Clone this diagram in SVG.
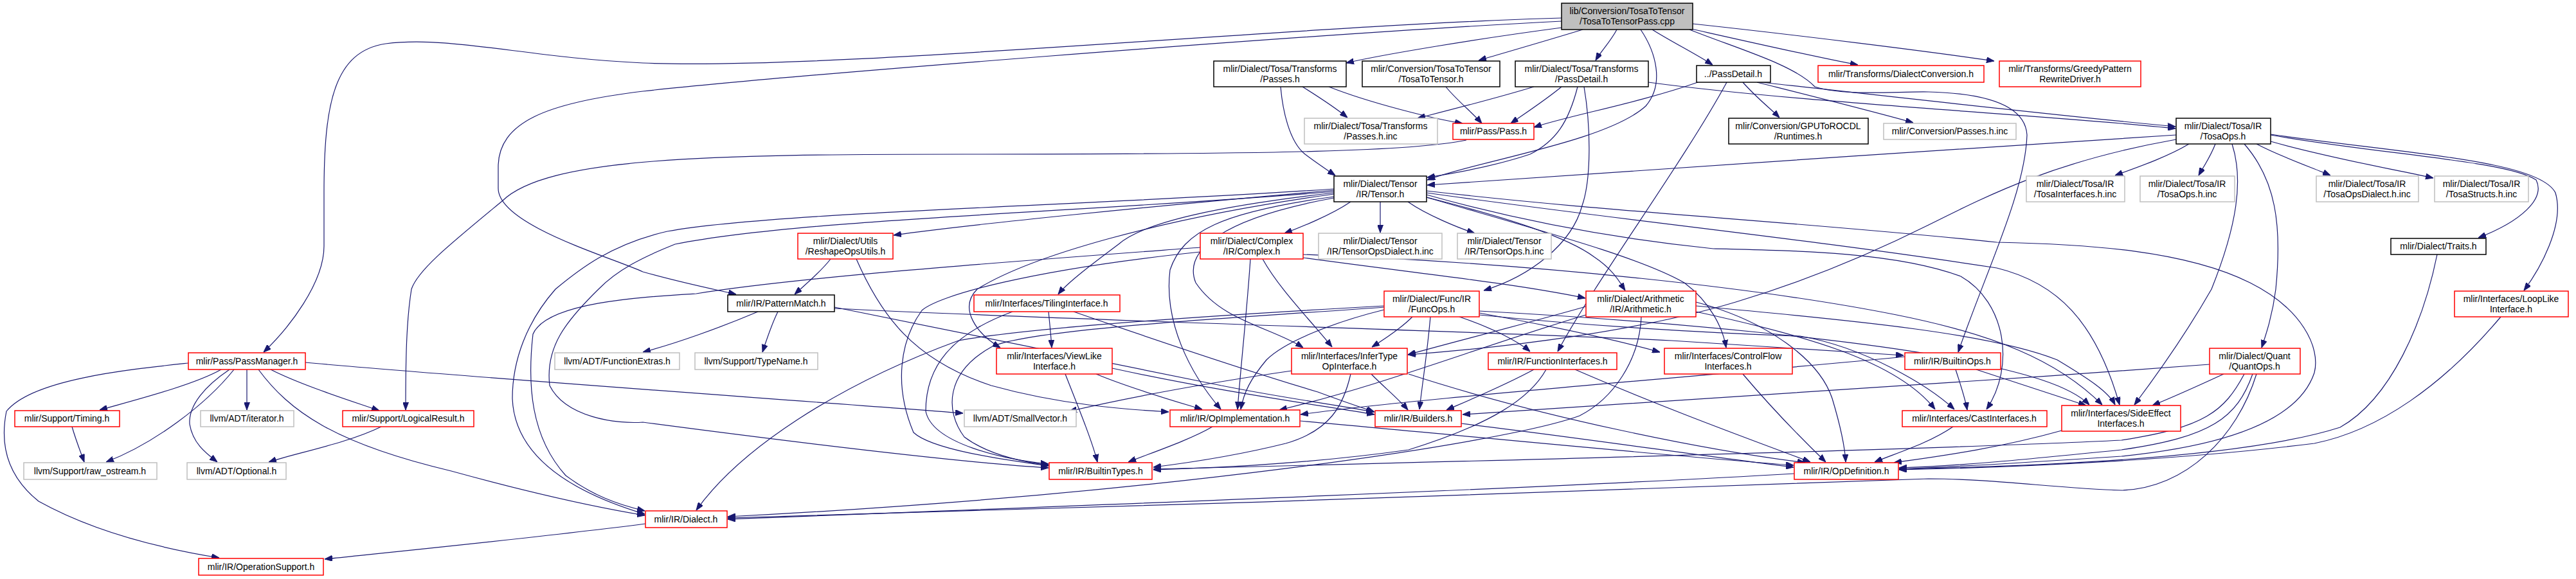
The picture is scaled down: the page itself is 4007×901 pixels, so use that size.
<svg xmlns="http://www.w3.org/2000/svg" width="4007" height="901" viewBox="0 0 4007 901">
<style>
text{font-family:"Liberation Sans",Arial,sans-serif;font-size:14px;fill:#000;text-anchor:middle}
rect{fill:#fff;stroke-width:1.5}
.b{stroke:#000}
.r{stroke:#ff0000}
.g{stroke:#bfbfbf}
.root{fill:#bfbfbf;stroke:#000}
#edges path{fill:none;stroke:#191970;stroke-width:1.2;marker-end:url(#a)}
</style>
<defs>
<marker id="a" markerWidth="12" markerHeight="9" refX="12" refY="4.5" orient="auto" markerUnits="userSpaceOnUse"><path d="M0,0 L12,4.5 L0,9 z" fill="#191970" stroke="#191970"/></marker>
</defs>
<rect width="4007" height="901" style="fill:#fff;stroke:none"/>
<g id="edges">
<path d="M2429,28 C2000,40 1300,110 1000,98 C820,90 700,55 600,68 C520,80 504,160 504,300 L504,383 C504,440 450,510 410,548"/>
<path d="M2429,33 C2000,55 1200,120 1000,142 C850,160 775,190 775,260 L775,293 C775,350 950,400 1000,423 C1060,440 1110,450 1145,458"/>
<path d="M2429,43 C2300,60 2150,85 2094,98"/>
<path d="M2462,46 C2400,65 2330,85 2300,94"/>
<path d="M2515,46 C2505,65 2490,80 2482,94"/>
<path d="M2552,46 C2575,80 2590,130 2560,165 C2500,220 2300,250 2220,280"/>
<path d="M2570,46 C2600,65 2640,85 2664,101"/>
<path d="M2628,46 C2700,75 2790,100 2823,135 C2870,150 2950,142 3000,143 C3080,145 3150,160 3153,210 C3150,300 3090,420 3046,548"/>
<path d="M2631,45 C2720,65 2830,90 2890,101"/>
<path d="M2633,37 C2800,55 3000,80 3102,95"/>
<path d="M1992,135 C1995,170 2005,220 2030,240 C2050,255 2065,265 2077,273"/>
<path d="M2026,135 C2050,150 2080,170 2096,183"/>
<path d="M2067,135 C2130,160 2230,185 2275,192"/>
<path d="M2249,135 C2265,155 2290,175 2305,192"/>
<path d="M2386,135 C2320,155 2240,175 2205,184"/>
<path d="M2429,135 C2405,155 2370,178 2350,192"/>
<path d="M2454,135 C2440,190 2420,220 2380,240 C2320,260 2260,270 2220,276"/>
<path d="M2464,135 C2475,200 2475,280 2461,320 C2445,380 2380,430 2308,452"/>
<path d="M2564,128 C2800,160 3200,180 3384,200"/>
<path d="M2641,128 C2550,160 2440,180 2386,198"/>
<path d="M2686,128 C2620,250 2480,440 2423,547"/>
<path d="M2711,128 C2730,150 2755,170 2768,183"/>
<path d="M2733,128 C2820,150 2920,175 2976,191"/>
<path d="M2740,128 C2850,140 3200,180 3384,197"/>
<path d="M2281,218 C2200,235 2000,240 1500,240 C1100,240 850,245 781,313 C700,380 650,420 640,450 C632,500 631,560 631,638"/>
<path d="M2101,314 C2070,335 2020,355 1998,363"/>
<path d="M2147,314 L2147,362"/>
<path d="M2190,314 C2220,335 2270,355 2294,363"/>
<path d="M2219,307 C2350,340 2440,370 2480,400 C2510,420 2520,440 2528,452"/>
<path d="M2075,296 C1800,320 1500,350 1390,366"/>
<path d="M2075,300 C1900,320 1780,345 1740,380 C1700,410 1660,440 1646,458"/>
<path d="M2075,302 C1800,340 1600,400 1520,450 C1490,480 1520,520 1556,541"/>
<path d="M2075,294 C1700,320 1200,330 1038,360 C950,380 900,420 864,450 C820,500 797,560 797,620 C800,700 870,760 1003,800"/>
<path d="M2075,298 C1700,330 1250,340 1050,380 C1000,400 960,420 931,450 C880,500 848,540 855,600 C880,650 960,660 1000,657 C1250,690 1500,720 1631,728"/>
<path d="M2075,306 C1900,330 1840,360 1820,420 C1810,500 1850,580 1899,637"/>
<path d="M2075,308 C1900,340 1840,390 1860,440 C1900,500 1980,510 2027,541"/>
<path d="M2219,297 C2500,330 2800,345 3106,377 C3250,380 3400,390 3500,440 C3580,480 3610,540 3600,580 C3580,640 3500,690 3300,710 C3150,720 3050,726 2954,730"/>
<path d="M2219,300 C2500,340 2800,370 3106,417 C3200,440 3260,500 3297,630"/>
<path d="M2219,303 C2350,340 2500,370 2665,387 C2800,390 2950,393 3050,430 C3120,470 3135,570 3090,637"/>
<path d="M2219,307 C2400,360 2550,400 2620,440 C2660,470 2680,510 2685,541"/>
<path d="M1867,385 C1600,405 1250,430 1083,457 C1000,462 850,470 829,520 C820,600 826,680 880,740 C920,770 960,785 1003,795"/>
<path d="M1867,392 C1600,420 1460,460 1434,483 C1400,530 1390,600 1421,673 C1450,700 1560,715 1631,725"/>
<path d="M1945,403 C1940,480 1930,570 1925,637"/>
<path d="M1964,403 C1990,450 2040,500 2072,540"/>
<path d="M2027,401 C2200,425 2350,440 2466,464"/>
<path d="M2027,396 C2400,410 2750,450 2950,490 C3100,520 3200,560 3270,630"/>
<path d="M1292,403 C1275,425 1250,445 1236,458"/>
<path d="M1332,403 C1370,490 1420,560 1542,600 C1650,630 1750,637 1818,641"/>
<path d="M1179,485 C1120,510 1050,535 1000,548"/>
<path d="M1210,485 C1200,505 1192,530 1186,548"/>
<path d="M1298,478 C1500,520 1700,560 1900,600 C2000,620 2080,630 2137,641"/>
<path d="M1298,480 C1700,500 2300,515 2600,530 C2750,540 2900,548 2961,553"/>
<path d="M1631,485 C1633,505 1635,525 1636,541"/>
<path d="M1575,485 C1480,520 1440,570 1440,640 C1450,690 1560,715 1631,722"/>
<path d="M1670,485 C1800,530 1950,580 2050,610 C2090,625 2120,635 2138,641"/>
<path d="M1657,582 C1680,640 1700,690 1707,719"/>
<path d="M1705,582 C1760,605 1830,625 1870,637"/>
<path d="M1730,573 C1900,610 2050,630 2138,645"/>
<path d="M475,564 C700,585 1200,620 1498,643"/>
<path d="M344,575 C300,600 200,625 155,638"/>
<path d="M384,575 L384,638"/>
<path d="M421,575 C470,600 550,625 590,639"/>
<path d="M364,575 C320,630 240,690 165,719"/>
<path d="M357,575 C320,600 293,630 295,660 C300,690 320,705 338,719"/>
<path d="M402,575 C450,640 520,690 702,733 C800,760 900,785 1003,802"/>
<path d="M293,565 C200,575 50,590 10,640 C0,690 10,740 60,780 C150,830 260,855 341,868"/>
<path d="M112,664 C118,685 126,705 131,719"/>
<path d="M593,664 C540,690 460,705 418,719"/>
<path d="M1004,815 C850,835 650,855 505,870"/>
<path d="M2197,493 C2180,510 2150,530 2134,540"/>
<path d="M2225,493 C2220,550 2212,600 2208,637"/>
<path d="M2270,493 C2320,510 2360,530 2380,547"/>
<path d="M2301,487 C2400,505 2500,525 2582,548"/>
<path d="M2153,482 C2080,500 2000,530 1970,560 C1945,590 1935,610 1930,637"/>
<path d="M2153,478 C2000,490 1600,510 1542,540 C1470,580 1470,640 1500,680 C1540,710 1600,720 1631,724"/>
<path d="M2153,476 C1900,490 1600,510 1491,530 C1300,600 1150,700 1083,794"/>
<path d="M2301,484 C2600,500 2900,530 3050,560 C3150,580 3220,600 3250,630"/>
<path d="M2301,490 C2500,510 2700,520 2800,523 C2900,540 3000,600 3040,637"/>
<path d="M2467,477 C2350,510 2250,535 2190,552"/>
<path d="M2467,490 C2300,540 2150,600 1990,638"/>
<path d="M2553,493 C2550,560 2510,620 2457,647 C2340,690 1800,770 1132,804"/>
<path d="M2638,470 C2750,500 2830,560 2850,620 C2865,670 2870,700 2871,719"/>
<path d="M2638,476 C2900,500 3100,520 3200,560 C3250,590 3280,610 3290,630"/>
<path d="M2638,485 C2800,520 2950,560 3010,637"/>
<path d="M2386,575 C2340,600 2280,625 2250,638"/>
<path d="M2405,575 C2380,620 2320,660 2191,700 C2050,720 1900,728 1794,731"/>
<path d="M2450,575 C2600,640 2740,690 2816,719"/>
<path d="M2133,582 C2150,600 2175,620 2190,638"/>
<path d="M2101,582 C2090,630 2070,670 2000,690 C1920,710 1850,720 1794,727"/>
<path d="M2191,582 C2400,650 2650,700 2808,720"/>
<path d="M2009,577 C1850,600 1750,620 1663,640"/>
<path d="M2711,582 C2760,640 2810,690 2840,719"/>
<path d="M2273,659 C2450,680 2650,710 2790,727"/>
<path d="M1886,664 C1850,685 1790,705 1755,719"/>
<path d="M2022,655 C2300,680 2600,710 2790,724"/>
<path d="M2963,555 C2600,590 2200,620 2023,645"/>
<path d="M3042,575 C3050,600 3057,620 3060,638"/>
<path d="M3074,575 C3150,600 3210,620 3245,631"/>
<path d="M3038,664 C3000,690 2950,705 2916,719"/>
<path d="M3207,670 C3100,700 3000,712 2946,720"/>
<path d="M3459,582 C3420,600 3375,620 3348,631"/>
<path d="M3437,567 C3000,600 2500,630 2275,645"/>
<path d="M3491,582 C3460,640 3430,665 3300,685 C3000,700 2200,720 1794,730"/>
<path d="M3504,582 C3480,650 3440,680 3300,700 C3150,715 3050,725 2954,728"/>
<path d="M3510,582 C3480,680 3400,760 3300,763 C3200,760 3100,745 3000,745 C2500,765 1700,790 1132,806"/>
<path d="M2791,737 C2400,760 1600,790 1132,808"/>
<path d="M3791,396 C3770,500 3720,620 3640,665 C3500,710 3200,725 2954,730"/>
<path d="M3890,493 C3800,600 3700,670 3600,690 C3400,715 3150,727 2954,731"/>
<path d="M3405,224 C3370,245 3320,262 3290,273"/>
<path d="M3446,224 C3438,245 3426,262 3420,273"/>
<path d="M3510,224 C3550,245 3600,262 3625,273"/>
<path d="M3532,220 C3620,245 3730,265 3785,277"/>
<path d="M3532,210 C3700,240 3900,250 3945,280 C3960,310 3920,345 3855,370"/>
<path d="M3532,209 C3750,240 3950,250 3975,300 C3990,350 3950,420 3926,452"/>
<path d="M3472,224 C3490,280 3480,350 3440,450 C3400,520 3350,590 3320,630"/>
<path d="M3491,224 C3540,280 3550,350 3540,450 C3535,490 3525,520 3518,541"/>
<path d="M3385,210 C3000,236 2600,260 2220,288"/>
<path d="M3385,217 C3200,250 3100,300 3000,350 C2900,400 2800,440 2700,470 C2550,515 2350,540 2190,552"/>
</g>
<g id="n_root"><rect class="root" x="2429" y="5" width="204" height="41"/><text x="2531" y="22">lib/Conversion/TosaToTensor</text><text x="2531" y="38">/TosaToTensorPass.cpp</text></g>
<g id="n_tosapasses"><rect class="b" x="1888" y="95" width="206" height="40"/><text x="1991" y="112">mlir/Dialect/Tosa/Transforms</text><text x="1991" y="128">/Passes.h</text></g>
<g id="n_t2t"><rect class="b" x="2119" y="95" width="214" height="40"/><text x="2226" y="112">mlir/Conversion/TosaToTensor</text><text x="2226" y="128">/TosaToTensor.h</text></g>
<g id="n_tpd"><rect class="b" x="2357" y="95" width="207" height="40"/><text x="2460" y="112">mlir/Dialect/Tosa/Transforms</text><text x="2460" y="128">/PassDetail.h</text></g>
<g id="n_pd"><rect class="b" x="2639" y="102" width="115" height="26"/><text x="2696" y="120">../PassDetail.h</text></g>
<g id="n_dc"><rect class="r" x="2828" y="102" width="258" height="26"/><text x="2957" y="120">mlir/Transforms/DialectConversion.h</text></g>
<g id="n_greedy"><rect class="r" x="3110" y="95" width="220" height="40"/><text x="3220" y="112">mlir/Transforms/GreedyPattern</text><text x="3220" y="128">RewriteDriver.h</text></g>
<g id="n_tpinc"><rect class="g" x="2029" y="184" width="207" height="40"/><text x="2132" y="201">mlir/Dialect/Tosa/Transforms</text><text x="2132" y="217">/Passes.h.inc</text></g>
<g id="n_pass"><rect class="r" x="2260" y="192" width="126" height="25"/><text x="2323" y="209">mlir/Pass/Pass.h</text></g>
<g id="n_rocdl"><rect class="b" x="2689" y="184" width="217" height="40"/><text x="2797" y="201">mlir/Conversion/GPUToROCDL</text><text x="2797" y="217">/Runtimes.h</text></g>
<g id="n_cpinc"><rect class="g" x="2930" y="192" width="206" height="25"/><text x="3033" y="209">mlir/Conversion/Passes.h.inc</text></g>
<g id="n_tosaops"><rect class="b" x="3385" y="184" width="147" height="40"/><text x="3458" y="201">mlir/Dialect/Tosa/IR</text><text x="3458" y="217">/TosaOps.h</text></g>
<g id="n_tensor"><rect class="b" x="2075" y="274" width="144" height="40"/><text x="2147" y="291">mlir/Dialect/Tensor</text><text x="2147" y="307">/IR/Tensor.h</text></g>
<g id="n_tiinc"><rect class="g" x="3152" y="274" width="153" height="40"/><text x="3228" y="291">mlir/Dialect/Tosa/IR</text><text x="3228" y="307">/TosaInterfaces.h.inc</text></g>
<g id="n_toinc"><rect class="g" x="3329" y="274" width="147" height="40"/><text x="3402" y="291">mlir/Dialect/Tosa/IR</text><text x="3402" y="307">/TosaOps.h.inc</text></g>
<g id="n_todinc"><rect class="g" x="3603" y="274" width="159" height="40"/><text x="3682" y="291">mlir/Dialect/Tosa/IR</text><text x="3682" y="307">/TosaOpsDialect.h.inc</text></g>
<g id="n_tsinc"><rect class="g" x="3787" y="274" width="146" height="40"/><text x="3860" y="291">mlir/Dialect/Tosa/IR</text><text x="3860" y="307">/TosaStructs.h.inc</text></g>
<g id="n_reshape"><rect class="r" x="1241" y="363" width="148" height="40"/><text x="1315" y="380">mlir/Dialect/Utils</text><text x="1315" y="396">/ReshapeOpsUtils.h</text></g>
<g id="n_complex"><rect class="r" x="1867" y="363" width="160" height="40"/><text x="1947" y="380">mlir/Dialect/Complex</text><text x="1947" y="396">/IR/Complex.h</text></g>
<g id="n_todi"><rect class="g" x="2051" y="363" width="192" height="40"/><text x="2147" y="380">mlir/Dialect/Tensor</text><text x="2147" y="396">/IR/TensorOpsDialect.h.inc</text></g>
<g id="n_tohi"><rect class="g" x="2267" y="363" width="146" height="40"/><text x="2340" y="380">mlir/Dialect/Tensor</text><text x="2340" y="396">/IR/TensorOps.h.inc</text></g>
<g id="n_traits"><rect class="b" x="3719" y="371" width="148" height="25"/><text x="3793" y="388">mlir/Dialect/Traits.h</text></g>
<g id="n_pm"><rect class="b" x="1132" y="459" width="166" height="26"/><text x="1215" y="477">mlir/IR/PatternMatch.h</text></g>
<g id="n_tiling"><rect class="r" x="1515" y="459" width="227" height="26"/><text x="1628" y="477">mlir/Interfaces/TilingInterface.h</text></g>
<g id="n_func"><rect class="r" x="2153" y="453" width="148" height="40"/><text x="2227" y="470">mlir/Dialect/Func/IR</text><text x="2227" y="486">/FuncOps.h</text></g>
<g id="n_arith"><rect class="r" x="2467" y="453" width="171" height="40"/><text x="2552" y="470">mlir/Dialect/Arithmetic</text><text x="2552" y="486">/IR/Arithmetic.h</text></g>
<g id="n_loop"><rect class="r" x="3818" y="453" width="177" height="40"/><text x="3906" y="470">mlir/Interfaces/LoopLike</text><text x="3906" y="486">Interface.h</text></g>
<g id="n_passmgr"><rect class="r" x="293" y="549" width="182" height="26"/><text x="384" y="567">mlir/Pass/PassManager.h</text></g>
<g id="n_fnext"><rect class="g" x="863" y="549" width="194" height="26"/><text x="960" y="567">llvm/ADT/FunctionExtras.h</text></g>
<g id="n_typename"><rect class="g" x="1081" y="549" width="191" height="26"/><text x="1176" y="567">llvm/Support/TypeName.h</text></g>
<g id="n_viewlike"><rect class="r" x="1550" y="542" width="180" height="40"/><text x="1640" y="559">mlir/Interfaces/ViewLike</text><text x="1640" y="575">Interface.h</text></g>
<g id="n_infer"><rect class="r" x="2009" y="542" width="180" height="40"/><text x="2099" y="559">mlir/Interfaces/InferType</text><text x="2099" y="575">OpInterface.h</text></g>
<g id="n_fi"><rect class="r" x="2315" y="549" width="200" height="26"/><text x="2415" y="567">mlir/IR/FunctionInterfaces.h</text></g>
<g id="n_cf"><rect class="r" x="2589" y="542" width="199" height="40"/><text x="2688" y="559">mlir/Interfaces/ControlFlow</text><text x="2688" y="575">Interfaces.h</text></g>
<g id="n_bops"><rect class="r" x="2963" y="549" width="149" height="26"/><text x="3037" y="567">mlir/IR/BuiltinOps.h</text></g>
<g id="n_quant"><rect class="r" x="3437" y="542" width="141" height="40"/><text x="3507" y="559">mlir/Dialect/Quant</text><text x="3507" y="575">/QuantOps.h</text></g>
<g id="n_timing"><rect class="r" x="23" y="639" width="163" height="25"/><text x="104" y="656">mlir/Support/Timing.h</text></g>
<g id="n_iter"><rect class="g" x="312" y="639" width="145" height="25"/><text x="384" y="656">llvm/ADT/iterator.h</text></g>
<g id="n_lr"><rect class="r" x="533" y="639" width="204" height="25"/><text x="635" y="656">mlir/Support/LogicalResult.h</text></g>
<g id="n_sv"><rect class="g" x="1500" y="638" width="174" height="26"/><text x="1587" y="656">llvm/ADT/SmallVector.h</text></g>
<g id="n_opimpl"><rect class="r" x="1820" y="638" width="202" height="26"/><text x="1921" y="656">mlir/IR/OpImplementation.h</text></g>
<g id="n_builders"><rect class="r" x="2139" y="639" width="134" height="25"/><text x="2206" y="656">mlir/IR/Builders.h</text></g>
<g id="n_cast"><rect class="r" x="2959" y="639" width="225" height="25"/><text x="3071" y="656">mlir/Interfaces/CastInterfaces.h</text></g>
<g id="n_se"><rect class="r" x="3207" y="631" width="185" height="40"/><text x="3299" y="648">mlir/Interfaces/SideEffect</text><text x="3299" y="664">Interfaces.h</text></g>
<g id="n_raw"><rect class="g" x="37" y="720" width="207" height="26"/><text x="140" y="738">llvm/Support/raw_ostream.h</text></g>
<g id="n_opt"><rect class="g" x="291" y="720" width="154" height="26"/><text x="368" y="738">llvm/ADT/Optional.h</text></g>
<g id="n_bt"><rect class="r" x="1632" y="720" width="160" height="26"/><text x="1712" y="738">mlir/IR/BuiltinTypes.h</text></g>
<g id="n_opdef"><rect class="r" x="2791" y="720" width="162" height="26"/><text x="2872" y="738">mlir/IR/OpDefinition.h</text></g>
<g id="n_dialect"><rect class="r" x="1004" y="795" width="127" height="26"/><text x="1067" y="813">mlir/IR/Dialect.h</text></g>
<g id="n_os"><rect class="r" x="309" y="869" width="194" height="26"/><text x="406" y="887">mlir/IR/OperationSupport.h</text></g>
</svg>
